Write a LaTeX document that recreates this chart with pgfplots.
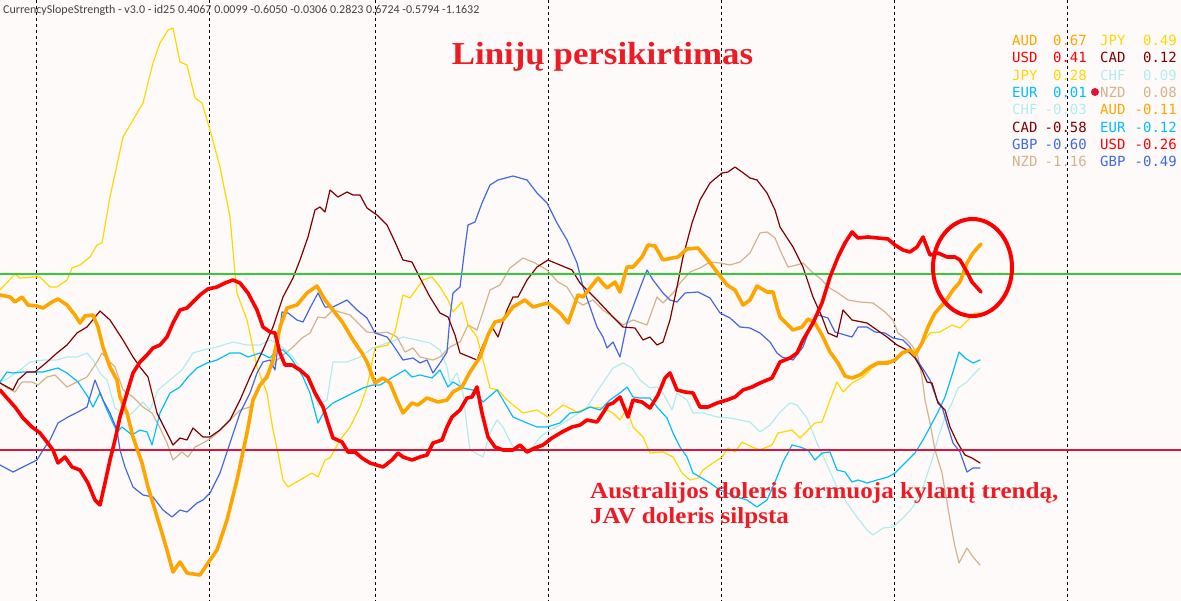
\documentclass[border=0pt]{standalone}
\usepackage{pgfplots}
\pgfplotsset{compat=1.18}
\usepackage{fontspec}
\setmainfont{DejaVu Sans}
\newfontfamily\legfont{DejaVu Sans Mono}
\newfontfamily\topfont{Carlito}
\newfontfamily\serifb{Liberation Serif}
\definecolor{snowbg}{RGB}{255,250,250}
\definecolor{cAUD}{RGB}{255,165,0}
\definecolor{cUSD}{RGB}{255,0,0}
\definecolor{cJPY}{RGB}{255,215,0}
\definecolor{cEUR}{RGB}{0,191,255}
\definecolor{cCHF}{RGB}{175,238,238}
\definecolor{cCAD}{RGB}{128,0,0}
\definecolor{cGBP}{RGB}{65,105,225}
\definecolor{cNZD}{RGB}{210,180,140}
\definecolor{grid}{RGB}{70,90,90}
\definecolor{hgreen}{RGB}{50,205,50}
\definecolor{hred}{RGB}{220,20,60}
\definecolor{txtred}{RGB}{237,28,36}
\newcommand{\lgt}[1]{\legfont\fontsize{14}{16}\selectfont #1}
\begin{document}
\begin{tikzpicture}
\begin{axis}[
  scale only axis, width=1181pt, height=601pt,
  xmin=0, xmax=1181, ymin=0, ymax=601, y dir=reverse,
  axis lines=none, ticks=none, no markers,
  every axis plot/.append style={line join=round, line cap=round},
  thin/.style={line width=1.2pt},
  thick/.style={line width=3.6pt},
]
\fill[snowbg] (rel axis cs:0,0) rectangle (rel axis cs:1,1);
% dashed verticals
\addplot[grid, line width=0.9pt, line cap=butt, dash pattern=on 3pt off 3pt] coordinates {(36,0)(36,601)};
\addplot[grid, line width=0.9pt, line cap=butt, dash pattern=on 3pt off 3pt] coordinates {(209,0)(209,601)};
\addplot[grid, line width=0.9pt, line cap=butt, dash pattern=on 3pt off 3pt] coordinates {(375,0)(375,601)};
\addplot[grid, line width=0.9pt, line cap=butt, dash pattern=on 3pt off 3pt] coordinates {(548,0)(548,601)};
\addplot[grid, line width=0.9pt, line cap=butt, dash pattern=on 3pt off 3pt] coordinates {(721,0)(721,601)};
\addplot[grid, line width=0.9pt, line cap=butt, dash pattern=on 3pt off 3pt] coordinates {(894,0)(894,601)};
\addplot[grid, line width=0.9pt, line cap=butt, dash pattern=on 3pt off 3pt] coordinates {(1067,0)(1067,601)};
% CHF
\addplot[cCHF, thin] coordinates {(0,383)(10,377)(20,370)(30,362)(43,360)(57,360)(67,357)(77,357)(87,353)(93,360)(100,373)(107,380)(115,408)(122,413)(130,415)(135,410)(143,402)(150,410)(158,390)(170,380)(182,370)(193,353)(203,350)(217,347)(233,342)(247,345)(260,345)(270,340)(280,345)(293,357)(303,373)(312,387)(318,405)(327,400)(333,362)(347,362)(360,357)(373,348)(390,342)(403,337)(417,340)(430,343)(440,350)(447,367)(450,383)(457,373)(463,393)(467,427)(470,450)(483,457)(490,433)(497,420)(503,427)(513,447)(523,450)(533,447)(540,437)(550,430)(560,425)(573,417)(587,407)(600,387)(613,368)(623,363)(632,368)(640,380)(650,388)(657,387)(663,393)(672,410)(677,393)(687,400)(693,413)(703,413)(717,417)(730,418)(740,420)(750,422)(760,432)(770,425)(780,412)(790,403)(797,405)(807,418)(817,443)(827,465)(837,487)(847,503)(857,517)(867,530)(873,535)(883,528)(893,527)(903,518)(913,507)(923,487)(932,460)(938,438)(945,417)(952,403)(958,388)(967,382)(973,375)(980,368)};
% NZD
\addplot[cNZD, thin] coordinates {(0,383)(7,388)(15,392)(22,382)(32,382)(38,385)(47,377)(55,375)(67,387)(77,382)(87,377)(97,362)(102,353)(110,362)(115,367)(123,390)(133,397)(143,407)(152,413)(160,428)(167,443)(173,460)(182,452)(188,457)(195,447)(203,443)(213,437)(223,427)(233,417)(240,410)(250,407)(257,393)(263,380)(270,370)(277,360)(287,352)(293,347)(302,338)(310,333)(318,317)(325,318)(333,310)(343,313)(350,315)(358,323)(367,332)(380,333)(387,332)(397,337)(405,352)(413,348)(420,357)(433,360)(440,357)(450,347)(460,342)(468,325)(477,330)(483,312)(490,290)(500,285)(510,268)(523,258)(535,263)(547,270)(558,282)(567,287)(575,300)(583,305)(593,300)(603,310)(613,317)(623,325)(633,320)(647,325)(657,297)(663,303)(673,293)(680,283)(690,272)(700,268)(710,262)(720,263)(730,265)(740,262)(750,253)(760,233)(767,232)(775,238)(780,250)(788,267)(797,265)(803,263)(812,272)(822,280)(828,287)(838,293)(848,300)(860,302)(873,303)(885,312)(893,320)(898,333)(907,340)(913,347)(918,357)(922,377)(925,400)(930,423)(935,450)(942,473)(950,520)(955,547)(959,563)(967,548)(973,557)(980,565)};
% JPY
\addplot[cJPY, thin] coordinates {(0,290)(15,274)(20,278)(33,277)(40,277)(50,287)(57,287)(67,280)(72,268)(80,265)(90,257)(97,245)(102,243)(110,197)(123,137)(143,103)(153,63)(160,43)(168,30)(173,28)(180,62)(187,65)(195,98)(202,103)(210,130)(220,167)(230,217)(235,273)(237,293)(247,320)(257,367)(267,393)(273,430)(278,453)(283,480)(288,487)(300,480)(312,473)(318,477)(325,460)(330,458)(340,440)(350,427)(360,407)(367,387)(375,348)(388,345)(395,332)(403,295)(410,298)(423,280)(432,277)(440,287)(448,300)(453,312)(462,302)(468,325)(477,337)(483,360)(490,388)(498,390)(507,400)(523,413)(537,410)(548,417)(563,405)(577,412)(590,407)(602,408)(613,413)(620,420)(627,408)(633,427)(643,437)(650,453)(663,452)(673,457)(682,473)(690,480)(698,478)(703,470)(713,463)(722,457)(728,448)(735,452)(742,442)(752,447)(760,450)(772,445)(778,433)(783,432)(792,430)(800,438)(810,428)(815,423)(822,422)(830,400)(837,382)(843,392)(852,383)(863,377)(873,367)(883,362)(893,360)(903,353)(910,352)(920,347)(930,333)(940,332)(952,325)(960,328)(970,318)(975,313)(980,313)};
% EUR
\addplot[cEUR, thin] coordinates {(0,382)(7,372)(13,373)(23,372)(33,372)(43,372)(58,368)(67,373)(78,382)(88,397)(93,407)(100,393)(107,410)(117,432)(122,427)(132,435)(140,430)(147,432)(152,445)(160,413)(170,393)(180,387)(188,377)(197,368)(207,363)(217,360)(230,353)(240,353)(248,357)(260,353)(270,358)(277,350)(283,350)(290,357)(297,367)(303,377)(310,393)(318,423)(325,410)(333,403)(343,398)(353,393)(363,388)(373,385)(380,385)(393,377)(405,370)(412,377)(420,375)(432,378)(440,370)(448,387)(453,382)(463,388)(473,390)(483,402)(497,390)(503,400)(513,417)(527,423)(537,427)(547,427)(560,423)(570,413)(580,412)(590,407)(600,410)(610,400)(620,393)(627,387)(633,397)(640,398)(650,398)(657,407)(667,418)(673,433)(680,447)(687,457)(693,473)(700,477)(710,483)(720,490)(727,493)(737,497)(747,500)(757,507)(767,500)(775,482)(783,462)(792,445)(800,447)(808,450)(815,460)(822,453)(830,452)(837,470)(845,472)(852,482)(858,480)(867,483)(877,480)(888,477)(895,473)(903,465)(915,453)(923,440)(930,427)(938,412)(945,397)(952,375)(959,352)(965,358)(973,363)(980,360)};
% GBP
\addplot[cGBP, thin] coordinates {(0,465)(13,472)(23,467)(37,460)(43,450)(50,440)(58,423)(68,417)(78,412)(87,407)(95,380)(103,400)(110,413)(117,430)(120,450)(125,467)(133,487)(143,495)(153,497)(163,510)(172,517)(180,510)(187,512)(197,503)(203,500)(210,493)(220,473)(230,443)(240,413)(250,393)(257,373)(263,362)(270,360)(275,370)(282,312)(288,313)(297,320)(303,322)(310,308)(318,293)(325,307)(333,307)(347,300)(357,310)(367,318)(375,333)(387,337)(393,345)(403,360)(413,358)(420,363)(427,360)(433,373)(440,363)(447,352)(450,317)(453,293)(460,287)(465,247)(468,225)(475,222)(482,203)(490,185)(498,180)(513,176)(527,180)(537,193)(547,203)(557,223)(567,240)(577,263)(583,287)(590,307)(597,327)(603,337)(607,348)(613,342)(620,357)(627,323)(633,307)(640,288)(647,270)(653,280)(663,293)(670,300)(677,302)(685,293)(698,292)(710,298)(720,313)(730,318)(740,327)(750,328)(760,333)(770,342)(777,353)(782,357)(793,360)(803,347)(813,320)(818,315)(828,318)(835,332)(845,335)(852,337)(858,327)(867,327)(875,332)(885,333)(893,338)(903,340)(910,347)(917,360)(925,372)(930,380)(937,400)(942,407)(948,427)(953,443)(960,452)(967,472)(973,468)(980,468)};
% CAD
\addplot[cCAD, thin] coordinates {(0,383)(13,390)(18,380)(27,372)(35,372)(47,362)(57,353)(67,345)(77,333)(87,327)(100,311)(110,320)(123,340)(133,357)(140,367)(148,377)(153,397)(157,413)(167,433)(173,445)(180,438)(187,440)(193,428)(203,437)(210,437)(220,430)(230,420)(240,400)(250,377)(263,350)(273,327)(283,297)(293,278)(300,260)(308,237)(315,210)(320,207)(325,212)(330,190)(338,197)(347,192)(353,195)(360,195)(367,208)(377,215)(387,225)(395,242)(403,260)(412,262)(420,278)(430,297)(440,313)(448,317)(455,335)(460,353)(477,360)(483,345)(492,327)(498,337)(507,310)(513,297)(518,297)(527,280)(537,267)(548,260)(560,265)(572,270)(580,283)(597,300)(613,317)(623,327)(635,328)(643,340)(650,337)(657,345)(663,342)(670,320)(677,287)(683,257)(692,223)(700,200)(710,183)(722,173)(728,172)(735,167)(742,172)(750,178)(757,180)(767,193)(775,210)(780,227)(793,247)(803,267)(813,297)(822,317)(828,333)(837,337)(843,310)(852,320)(867,323)(877,330)(887,337)(897,345)(907,350)(915,358)(922,370)(927,382)(932,383)(938,403)(945,410)(950,427)(957,442)(965,455)(972,458)(980,463)};
% horizontal levels
\addplot[hgreen, line width=2.2pt] coordinates {(0,274)(1181,274)};
\addplot[hred, line width=2.2pt] coordinates {(0,450)(1181,450)};
% AUD
\addplot[cAUD, thick] coordinates {(0,295)(10,297)(15,302)(22,297)(28,305)(37,306)(43,308)(52,302)(58,299)(67,305)(75,315)(80,323)(85,316)(93,315)(98,327)(103,347)(110,367)(117,380)(120,397)(127,413)(133,437)(142,463)(148,487)(155,510)(162,533)(167,550)(173,572)(180,562)(187,573)(200,575)(208,563)(217,550)(227,520)(237,480)(247,433)(253,400)(260,385)(267,377)(273,360)(280,327)(287,308)(297,305)(307,293)(317,286)(325,300)(333,310)(343,323)(353,340)(362,353)(367,362)(375,383)(383,378)(390,383)(397,400)(403,413)(412,403)(418,405)(427,398)(438,402)(447,400)(453,392)(462,387)(470,372)(480,357)(488,335)(495,322)(503,320)(513,307)(525,300)(533,307)(540,305)(548,303)(560,313)(568,323)(578,295)(583,297)(590,288)(598,278)(607,288)(615,282)(620,292)(627,267)(633,267)(642,257)(648,245)(655,246)(663,260)(672,258)(678,257)(687,249)(698,248)(708,260)(717,272)(727,285)(735,290)(743,305)(750,300)(757,286)(767,292)(773,292)(777,307)(780,317)(785,322)(793,330)(802,327)(808,319)(815,323)(822,335)(830,352)(838,363)(845,376)(852,378)(860,375)(870,367)(878,363)(888,363)(895,360)(902,353)(910,350)(915,355)(922,343)(928,327)(935,313)(945,302)(953,290)(960,282)(967,263)(973,253)(981,244)};
% USD
\addplot[cUSD, thick] coordinates {(0,390)(7,398)(15,407)(23,418)(32,427)(40,433)(47,442)(53,450)(58,463)(65,457)(72,467)(80,470)(88,483)(95,500)(100,505)(105,483)(110,460)(115,440)(120,417)(127,393)(133,373)(140,362)(147,355)(153,348)(160,345)(167,337)(173,323)(180,310)(187,308)(193,302)(200,295)(208,289)(217,287)(225,283)(233,280)(240,283)(248,293)(257,310)(263,327)(270,332)(275,333)(280,353)(285,365)(292,365)(300,370)(308,377)(315,393)(323,407)(328,423)(333,438)(342,442)(348,452)(355,452)(362,458)(370,463)(383,467)(392,460)(398,453)(403,457)(412,460)(420,457)(427,455)(433,443)(442,440)(447,427)(452,417)(460,410)(467,398)(472,397)(477,387)(482,413)(488,437)(495,447)(503,450)(513,450)(520,445)(527,452)(535,448)(543,445)(552,438)(562,432)(572,427)(580,425)(587,420)(597,422)(603,413)(608,405)(613,403)(620,397)(628,417)(633,400)(642,402)(650,408)(658,395)(665,378)(670,373)(677,390)(685,392)(693,393)(700,407)(708,407)(717,403)(727,400)(735,397)(743,390)(752,387)(760,383)(772,378)(780,362)(790,358)(797,353)(803,340)(813,323)(822,303)(830,277)(838,257)(845,243)(852,232)(858,238)(868,237)(878,238)(888,239)(895,245)(903,250)(910,252)(917,247)(923,237)(930,255)(938,253)(947,257)(955,257)(960,260)(967,272)(972,282)(981,292)};
% circle
\draw[cUSD, line width=4pt] (axis cs:972.5,267.5) ellipse [x radius=39.5pt, y radius=48.5pt];
% red dot in legend
\fill[hred] (axis cs:1095,92) circle [radius=4pt];
% top-left label
\node[anchor=base west, inner sep=0pt, text=black!75] at (axis cs:3,14) {\topfont\fontsize{12}{14}\selectfont CurrencySlopeStrength - v3.0 - id25 0.4067 0.0099 -0.6050 -0.0306 0.2823 0.6724 -0.5794 -1.1632};
% title
\node[anchor=base, inner sep=0pt, text=txtred] at (axis cs:602.5,65) {\scalebox{1.09}[1]{\serifb\bfseries\fontsize{32}{36}\selectfont Linijų persikirtimas}};
% annotation
\node[anchor=base west, inner sep=0pt, text=txtred] at (axis cs:590,498) {\scalebox{1.09}[1]{\serifb\bfseries\fontsize{23}{26}\selectfont Australijos doleris formuoja kylantį trendą,}};
\node[anchor=base west, inner sep=0pt, text=txtred] at (axis cs:590,523) {\scalebox{1.09}[1]{\serifb\bfseries\fontsize{23}{26}\selectfont JAV doleris silpsta}};
% legend column 1
\node[anchor=base west, inner sep=0pt, text=cAUD] at (axis cs:1012,45.5) {\lgt{AUD}};
\node[anchor=base east, inner sep=0pt, text=cAUD] at (axis cs:1087,45.5) {\lgt{0.67}};
\node[anchor=base west, inner sep=0pt, text=cUSD] at (axis cs:1012,63) {\lgt{USD}};
\node[anchor=base east, inner sep=0pt, text=cUSD] at (axis cs:1087,63) {\lgt{0.41}};
\node[anchor=base west, inner sep=0pt, text=cJPY] at (axis cs:1012,80.2) {\lgt{JPY}};
\node[anchor=base east, inner sep=0pt, text=cJPY] at (axis cs:1087,80.2) {\lgt{0.28}};
\node[anchor=base west, inner sep=0pt, text=cEUR] at (axis cs:1012,97.5) {\lgt{EUR}};
\node[anchor=base east, inner sep=0pt, text=cEUR] at (axis cs:1087,97.5) {\lgt{0.01}};
\node[anchor=base west, inner sep=0pt, text=cCHF] at (axis cs:1012,115) {\lgt{CHF}};
\node[anchor=base east, inner sep=0pt, text=cCHF] at (axis cs:1087,115) {\lgt{-0.03}};
\node[anchor=base west, inner sep=0pt, text=cCAD] at (axis cs:1012,132.3) {\lgt{CAD}};
\node[anchor=base east, inner sep=0pt, text=cCAD] at (axis cs:1087,132.3) {\lgt{-0.58}};
\node[anchor=base west, inner sep=0pt, text=cGBP] at (axis cs:1012,149.6) {\lgt{GBP}};
\node[anchor=base east, inner sep=0pt, text=cGBP] at (axis cs:1087,149.6) {\lgt{-0.60}};
\node[anchor=base west, inner sep=0pt, text=cNZD] at (axis cs:1012,167) {\lgt{NZD}};
\node[anchor=base east, inner sep=0pt, text=cNZD] at (axis cs:1087,167) {\lgt{-1.16}};
% legend column 2
\node[anchor=base west, inner sep=0pt, text=cJPY] at (axis cs:1100,45.5) {\lgt{JPY}};
\node[anchor=base east, inner sep=0pt, text=cJPY] at (axis cs:1177,45.5) {\lgt{0.49}};
\node[anchor=base west, inner sep=0pt, text=cCAD] at (axis cs:1100,63) {\lgt{CAD}};
\node[anchor=base east, inner sep=0pt, text=cCAD] at (axis cs:1177,63) {\lgt{0.12}};
\node[anchor=base west, inner sep=0pt, text=cCHF] at (axis cs:1100,80.2) {\lgt{CHF}};
\node[anchor=base east, inner sep=0pt, text=cCHF] at (axis cs:1177,80.2) {\lgt{0.09}};
\node[anchor=base west, inner sep=0pt, text=cNZD] at (axis cs:1100,97.5) {\lgt{NZD}};
\node[anchor=base east, inner sep=0pt, text=cNZD] at (axis cs:1177,97.5) {\lgt{0.08}};
\node[anchor=base west, inner sep=0pt, text=cAUD] at (axis cs:1100,115) {\lgt{AUD}};
\node[anchor=base east, inner sep=0pt, text=cAUD] at (axis cs:1177,115) {\lgt{-0.11}};
\node[anchor=base west, inner sep=0pt, text=cEUR] at (axis cs:1100,132.3) {\lgt{EUR}};
\node[anchor=base east, inner sep=0pt, text=cEUR] at (axis cs:1177,132.3) {\lgt{-0.12}};
\node[anchor=base west, inner sep=0pt, text=cUSD] at (axis cs:1100,149.6) {\lgt{USD}};
\node[anchor=base east, inner sep=0pt, text=cUSD] at (axis cs:1177,149.6) {\lgt{-0.26}};
\node[anchor=base west, inner sep=0pt, text=cGBP] at (axis cs:1100,167) {\lgt{GBP}};
\node[anchor=base east, inner sep=0pt, text=cGBP] at (axis cs:1177,167) {\lgt{-0.49}};
\end{axis}
\end{tikzpicture}
\end{document}
